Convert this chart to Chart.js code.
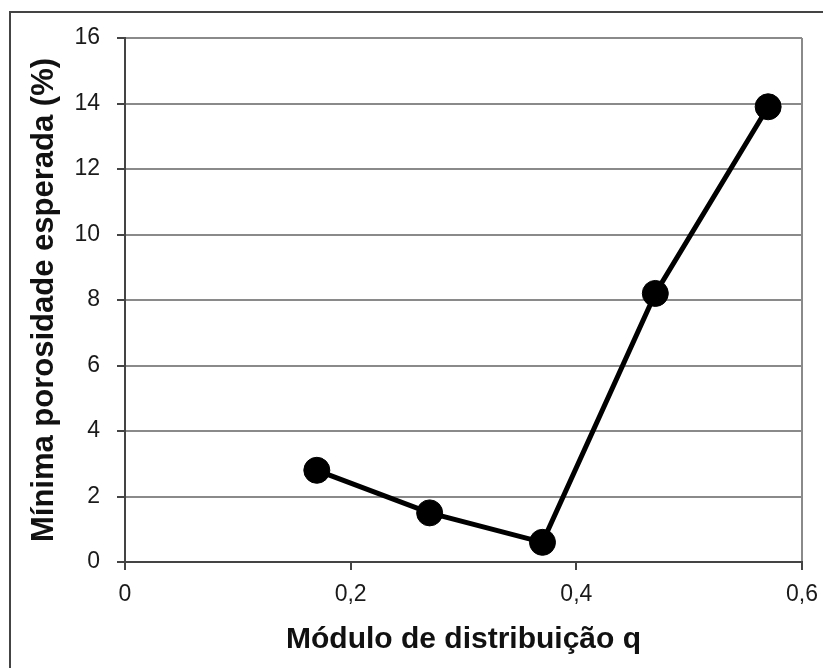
<!DOCTYPE html>
<html>
<head>
<meta charset="utf-8">
<script src="https://cdn.jsdelivr.net/npm/chart.js@4/dist/chart.umd.min.js"></script>
<style>
  body { margin: 0; background: #fff; }
  #wrap { position: relative; width: 823px; height: 668px; }
  #frame {
    position: absolute; left: 9px; top: 11px; right: 0; bottom: 0;
    border-left: 2px solid #444; border-top: 2px solid #444;
    pointer-events: none;
  }
</style>
</head>
<body>
<div id="wrap">
  <canvas id="porosity" width="823" height="668"></canvas>
  <div id="frame"></div>
</div>
<script>
// distribution modulus q vs. minimum expected porosity (%)
const moduleQ = [0.17, 0.27, 0.37, 0.47, 0.57];
const minPorosity = [2.8, 1.5, 0.6, 8.2, 13.9];
const xTickLabels = ['0', '0,2', '0,4', '0,6'];
const yTickLabels = ['0', '2', '4', '6', '8', '10', '12', '14', '16'];

const gridGray = '#8a8a8a';
const axisDark = '#444';

const points = moduleQ.map((q, i) => ({ x: q, y: minPorosity[i] }));

new Chart(document.getElementById('porosity'), {
    type: 'line',
    data: {
        datasets: [{
            data: points,
            borderColor: '#000',
            borderWidth: 5,
            pointRadius: 13,
            pointBackgroundColor: '#000',
            pointBorderColor: '#000',
            pointBorderWidth: 1,
            tension: 0,
            clip: false
        }]
    },
    options: {
        responsive: false,
        animation: false,
        layout: { padding: { left: 0, right: 21, top: 38, bottom: 0 } },
        plugins: { legend: { display: false }, tooltip: { enabled: false } },
        scales: {
            x: {
                type: 'linear',
                min: 0,
                max: 0.6,
                ticks: {
                    stepSize: 0.2,
                    padding: 11,
                    color: '#1a1a1a',
                    font: { family: 'Liberation Sans', size: 23 },
                    callback: (v, i) => xTickLabels[i]
                },
                grid: {
                    // only the right frame edge is drawn inside the plot
                    color: (c) => c.index === xTickLabels.length - 1 ? gridGray : 'rgba(0,0,0,0)',
                    tickColor: axisDark,
                    lineWidth: 2,
                    tickLength: 8
                },
                border: { color: axisDark, width: 2 },
                title: {
                    display: true,
                    text: 'Módulo de distribuição q',
                    color: '#111',
                    font: { family: 'Liberation Sans', size: 30, weight: 'bold' },
                    padding: { top: 0, bottom: 10 }
                },
                afterFit: (s) => {
                    s.height = 106;
                    // let the last label hang into the layout padding
                    s.paddingRight = 0;
                }
            },
            y: {
                min: 0,
                max: 16,
                ticks: {
                    stepSize: 2,
                    padding: 17,
                    color: '#1a1a1a',
                    font: { family: 'Liberation Sans', size: 23 },
                    callback: (v, i) => yTickLabels[i]
                },
                grid: {
                    color: gridGray,
                    tickColor: axisDark,
                    lineWidth: 2,
                    tickLength: 8
                },
                border: { color: axisDark, width: 2 },
                title: {
                    display: true,
                    text: 'Mínima porosidade esperada (%)',
                    color: '#111',
                    font: { family: 'Liberation Sans', size: 31, weight: 'bold' },
                    padding: { top: 26, bottom: 0 }
                },
                afterFit: (s) => { s.width = 125; }
            }
        }
    }
});
</script>
</body>
</html>
